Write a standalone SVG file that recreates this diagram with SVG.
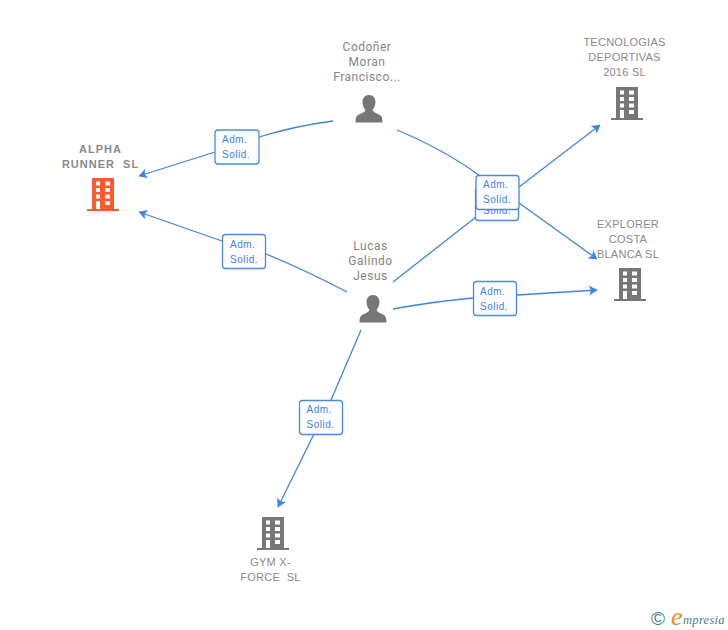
<svg xmlns="http://www.w3.org/2000/svg" width="728" height="630" viewBox="0 0 728 630">
<style>
.e{fill:none;stroke:#3f84e0;stroke-width:1.3;marker-end:url(#a)}
.p{fill:none;stroke:#3f84e0;stroke-width:1.3}
.b{fill:#fdfdff;stroke:#4a8ae2;stroke-width:1.3}
.l{font:10px "Liberation Sans",Arial,sans-serif;fill:#3f84e0;letter-spacing:.5px}
.c{font:11px "Liberation Sans",Arial,sans-serif;fill:#8a8a8a;text-anchor:middle;letter-spacing:.25px}
.ca{font:bold 11px "Liberation Sans",Arial,sans-serif;fill:#8a8a8a;text-anchor:middle;letter-spacing:1px}
.n{font:12px Roboto,Arial,sans-serif;fill:#858585;text-anchor:middle;letter-spacing:.5px}
.g{fill:#777}
.r{fill:#ff5a2b}
</style>
<defs>
<marker id="a" markerUnits="userSpaceOnUse" markerWidth="12" markerHeight="12" refX="9" refY="5.500" orient="auto"><path d="M1 0.500L9.500 5.500L1 10.500L3 5.500Z" fill="#3f84e0"/></marker>
<symbol id="h" viewBox="0 0 32 33" width="32" height="33"><path fill-rule="evenodd" d="M5 0H27V31H32V33H0V31H5ZM9 3.500V7.500H13V3.500ZM18 3.500V7.500H23V3.500ZM9 10V14H13V10ZM18 10V14H23V10ZM9 16.500V20.500H13V16.500ZM18 16.500V20.500H23V16.500ZM9 23V31H13V23ZM18 23V27H23V23Z"/></symbol>
<symbol id="u" viewBox="0 0 28 28" width="28" height="28"><path d="M14 0C18.500 0 20.500 3.500 20.500 7C20.500 10.500 19 13 17.500 15C18 17 21 18 24 19.500C26.500 20.500 27.500 22.500 27.500 27.500H0.500C0.500 22.500 1.500 20.500 4 19.500C7 18 10 17 10.500 15C9 13 7.500 10.500 7.500 7C7.500 3.500 9.500 0 14 0Z"/></symbol>
</defs>
<g id="connectors">
<path class="e" d="M333 121Q295 126 259 137M215 152L139 176"/>
<path class="e" d="M347 292Q305 270 266 254M222 241L139 212"/>
<path class="p" d="M397 130Q445 150 480 176"/>
<path class="e" d="M519 203L597 259"/>
<path class="p" d="M393 282L476 217"/>
<path class="e" d="M519 187L600 125"/>
<path class="p" d="M393 309Q430 302 473 298"/>
<path class="e" d="M517 295L597 290"/>
<path class="p" d="M361 330L331 400"/>
<path class="e" d="M314 434L278 507"/>
</g>
<g id="edge-labels">
<g><rect class="b" x="215" y="130" width="44" height="34" rx="3"/><text class="l" x="222" y="143">Adm.</text><text class="l" x="222" y="158">Solid.</text></g>
<g><rect class="b" x="222.500" y="234.500" width="43" height="34" rx="3"/><text class="l" x="230" y="248">Adm.</text><text class="l" x="230" y="263">Solid.</text></g>
<g><rect class="b" x="475.500" y="186.500" width="43" height="34" rx="3"/><text class="l" x="483" y="199">Adm.</text><text class="l" x="483" y="214">Solid.</text></g>
<g><rect class="b" x="476" y="175.500" width="43" height="34" rx="3"/><text class="l" x="483" y="188">Adm.</text><text class="l" x="483" y="203">Solid.</text></g>
<g><rect class="b" x="473.500" y="281.500" width="43" height="34" rx="3"/><text class="l" x="480" y="295">Adm.</text><text class="l" x="480" y="310">Solid.</text></g>
<g><rect class="b" x="299.500" y="400.500" width="43" height="34" rx="3"/><text class="l" x="306.500" y="413">Adm.</text><text class="l" x="306.500" y="428">Solid.</text></g>
</g>
<g id="alpha"><use href="#h" x="87" y="178" class="r"/><text class="ca" x="100.500" y="153">ALPHA</text><text class="ca" x="100.500" y="168" xml:space="preserve">RUNNER  SL</text></g>
<g id="codoner"><use href="#u" x="355" y="95" class="g"/><text class="n" x="367" y="51">Codoñer</text><text class="n" x="367" y="66">Moran</text><text class="n" x="367" y="81">Francisco...</text></g>
<g id="lucas"><use href="#u" x="359" y="295" class="g"/><text class="n" x="370.500" y="250">Lucas</text><text class="n" x="370.500" y="265">Galindo</text><text class="n" x="370.500" y="280">Jesus</text></g>
<g id="tecnologias"><use href="#h" x="611" y="87" class="g"/><text class="c" x="624.500" y="46">TECNOLOGIAS</text><text class="c" x="624.500" y="61">DEPORTIVAS</text><text class="c" x="624.500" y="76">2016 SL</text></g>
<g id="explorer"><use href="#h" x="614" y="268" class="g"/><text class="c" x="628" y="228">EXPLORER</text><text class="c" x="628" y="243">COSTA</text><text class="c" x="628" y="258">BLANCA SL</text></g>
<g id="gym"><use href="#h" x="257" y="517" class="g"/><text class="c" x="270.500" y="566">GYM X-</text><text class="c" x="270.500" y="581" xml:space="preserve">FORCE  SL</text></g>
<g id="logo"><text x="658" y="625" text-anchor="middle" style="font:19px 'Liberation Sans',sans-serif;fill:#3d7f95">©</text><text x="671" y="625" style="font:italic 26px 'Liberation Serif',serif;fill:#f08a1d">e</text><text x="683" y="624" style="font:italic 12.500px 'Liberation Serif',serif;fill:#3d7f95;letter-spacing:.3px">mpresia</text></g>
</svg>
